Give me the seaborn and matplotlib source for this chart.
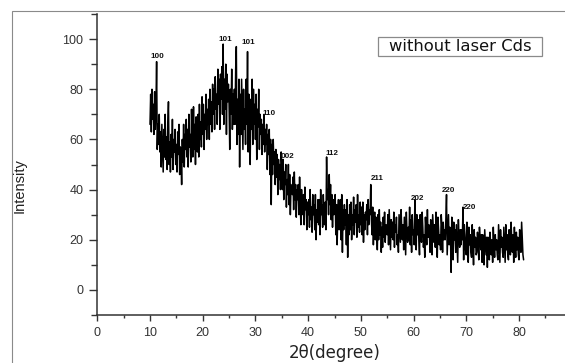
import numpy as np
import pandas as pd
import matplotlib
matplotlib.use("Agg")
import matplotlib.pyplot as plt
import seaborn as sns
from matplotlib.patches import Rectangle
from matplotlib.ticker import MultipleLocator

# Step scan: 10.000 to 80.875 degrees (2θ), eight readings per degree
scan_start = 10.0
scan_step = 0.125
intensity_by_degree = [
    [66, 78, 63, 80, 68, 74, 62, 79],  # 10
    [64, 72, 91, 56, 66, 58, 70, 55],  # 11
    [63, 49, 66, 57, 47, 64, 53, 70],  # 12
    [52, 61, 48, 66, 75, 50, 59, 47],  # 13
    [62, 53, 68, 48, 60, 55, 64, 50],  # 14
    [58, 47, 63, 54, 66, 46, 57, 52],  # 15
    [42, 60, 51, 66, 49, 62, 56, 68],  # 16
    [53, 64, 49, 70, 57, 62, 51, 72],  # 17
    [60, 53, 73, 56, 66, 50, 69, 58],  # 18
    [55, 70, 53, 74, 60, 67, 57, 77],  # 19
    [62, 74, 56, 70, 64, 78, 60, 72],  # 20
    [66, 76, 60, 80, 66, 75, 63, 82],  # 21
    [70, 80, 64, 85, 72, 78, 66, 88],  # 22
    [74, 84, 64, 86, 76, 89, 70, 98],  # 23
    [66, 84, 72, 90, 62, 86, 75, 82],  # 24
    [74, 56, 80, 70, 88, 64, 78, 66],  # 25
    [80, 66, 88, 97, 58, 76, 62, 84],  # 26
    [49, 78, 62, 84, 70, 56, 80, 64],  # 27
    [72, 58, 84, 66, 95, 55, 78, 60],  # 28
    [50, 76, 64, 84, 58, 80, 66, 74],  # 29
    [60, 78, 52, 72, 65, 80, 56, 70],  # 30
    [62, 68, 54, 66, 58, 70, 55, 64],  # 31
    [58, 66, 48, 62, 54, 64, 46, 60],  # 32
    [34, 58, 46, 60, 50, 55, 42, 56],  # 33
    [45, 54, 38, 52, 44, 50, 40, 55],  # 34
    [50, 40, 52, 36, 47, 42, 50, 33],  # 35
    [44, 38, 50, 34, 46, 30, 42, 40],  # 36
    [38, 45, 32, 47, 36, 42, 29, 40],  # 37
    [36, 42, 30, 45, 34, 26, 40, 32],  # 38
    [30, 38, 26, 41, 32, 36, 24, 35],  # 39
    [30, 36, 25, 40, 28, 33, 23, 38],  # 40
    [30, 34, 24, 38, 20, 32, 27, 36],  # 41
    [26, 36, 22, 40, 30, 34, 25, 38],  # 42
    [30, 26, 35, 24, 53, 36, 40, 30],  # 43
    [46, 34, 42, 28, 38, 25, 36, 30],  # 44
    [32, 38, 22, 34, 18, 30, 36, 24],  # 45
    [28, 36, 20, 38, 15, 32, 24, 34],  # 46
    [26, 32, 18, 36, 13, 30, 22, 34],  # 47
    [24, 35, 20, 30, 26, 37, 22, 32],  # 48
    [27, 34, 21, 38, 25, 30, 23, 35],  # 49
    [26, 33, 22, 35, 19, 30, 24, 31],  # 50
    [28, 34, 22, 36, 26, 32, 30, 42],  # 51
    [28, 22, 33, 18, 27, 31, 20, 29],  # 52
    [24, 16, 30, 20, 32, 22, 27, 15],  # 53
    [25, 17, 29, 21, 31, 19, 26, 23],  # 54
    [22, 30, 18, 32, 24, 16, 28, 21],  # 55
    [27, 20, 31, 17, 26, 23, 29, 18],  # 56
    [22, 15, 30, 24, 19, 32, 25, 20],  # 57
    [26, 16, 29, 21, 14, 31, 23, 19],  # 58
    [25, 20, 33, 18, 28, 15, 30, 22],  # 59
    [24, 18, 36, 27, 16, 30, 22, 28],  # 60
    [20, 14, 30, 23, 19, 31, 25, 17],  # 61
    [22, 13, 29, 24, 18, 32, 21, 26],  # 62
    [23, 15, 28, 20, 14, 30, 24, 19],  # 63
    [26, 17, 31, 21, 13, 29, 24, 18],  # 64
    [22, 16, 30, 25, 15, 27, 20, 24],  # 65
    [20, 28, 38, 14, 22, 30, 18, 25],  # 66
    [22, 7, 29, 16, 12, 27, 20, 24],   # 67
    [15, 26, 19, 11, 28, 21, 17, 24],  # 68
    [18, 24, 20, 33, 12, 26, 22, 16],  # 69
    [14, 27, 20, 11, 25, 18, 22, 15],  # 70
    [13, 26, 19, 10, 24, 17, 21, 14],  # 71
    [15, 23, 18, 12, 25, 20, 16, 22],  # 72
    [11, 22, 17, 10, 24, 19, 14, 21],  # 73
    [9, 21, 16, 12, 23, 18, 14, 20],   # 74
    [11, 25, 18, 13, 22, 16, 20, 14],  # 75
    [12, 26, 19, 11, 24, 17, 21, 15],  # 76
    [13, 25, 18, 11, 26, 16, 22, 14],  # 77
    [12, 24, 17, 14, 27, 19, 15, 22],  # 78
    [11, 25, 18, 13, 23, 16, 21, 14],  # 79
    [12, 24, 18, 15, 27, 20, 14, 12],  # 80
]

# Miller indices of the CdS reflections and where their tags sit
peak_hkl = ["100", "101", "101", "110", "002", "112", "211", "202", "220", "220"]
peak_2theta = [11.4, 24.3, 28.6, 32.6, 36.0, 44.6, 53.1, 60.7, 66.7, 70.7]
peak_tag_y = [93.0, 100.0, 98.5, 70.5, 53.0, 54.5, 44.5, 36.5, 39.5, 33.0]

x_ticks = [0, 10, 20, 30, 40, 50, 60, 70, 80, 90]
y_ticks = [0, 20, 40, 60, 80, 100]

intensity = [v for row in intensity_by_degree for v in row]
two_theta = scan_start + scan_step * np.arange(len(intensity))
df = pd.DataFrame({"two_theta": two_theta, "intensity": intensity})

sns.set_theme(style="ticks")
plt.rcParams["font.family"] = ["Liberation Sans", "DejaVu Sans"]

W, H = 565, 363
fig = plt.figure(figsize=(W / 100, H / 100), dpi=100)
fig.patch.set_facecolor("white")

# thin grey frame around the whole graphic
fig.patches.append(Rectangle((12 / W, -0.2), 1.2, 1.2 - 11 / H,
                             transform=fig.transFigure, fill=False,
                             edgecolor="#8a8a8a", linewidth=0.8))

ax = fig.add_axes([97.3 / W, 48 / H, 474.4 / W, 301 / H])
ax.set_facecolor("white")

sns.lineplot(data=df, x="two_theta", y="intensity", ax=ax, color="black",
             linewidth=1.1, estimator=None, sort=False)

ax.set_xlim(0, 90)
ax.set_ylim(-10, 110)
ax.set_xticks(x_ticks)
ax.set_yticks(y_ticks)
ax.xaxis.set_minor_locator(MultipleLocator(5))
ax.yaxis.set_minor_locator(MultipleLocator(10))
ax.set_xlabel("")
ax.set_ylabel("")

for side in ["top", "right"]:
    ax.spines[side].set_visible(False)
for side in ["left", "bottom"]:
    ax.spines[side].set_color("#333333")
    ax.spines[side].set_linewidth(1.1)

ax.tick_params(axis="both", which="major", direction="out", colors="#333333",
               labelcolor="#333333", labelsize=9, width=1.0)
ax.tick_params(axis="y", which="major", length=6, pad=4)
ax.tick_params(axis="y", which="minor", length=4, width=1.0, colors="#333333")
ax.tick_params(axis="x", which="major", length=4, pad=5)
ax.tick_params(axis="x", which="minor", length=2.5, width=1.0, colors="#333333")

for hkl, tx, ty in zip(peak_hkl, peak_2theta, peak_tag_y):
    ax.text(tx, ty, hkl, ha="center", va="center", fontsize=5.8,
            fontweight="bold", color="#111111")

# sample caption box
fig.patches.append(Rectangle((378 / W, 1 - 56 / H), 164 / W, 19 / H,
                             transform=fig.transFigure, facecolor="white",
                             edgecolor="#8a8a8a", linewidth=0.9))
fig.text(460 / W, 1 - 46.5 / H, "without laser Cds", ha="center", va="center",
         fontsize=11.8, color="#111111", family=["DejaVu Sans"])

fig.text(20 / W, 1 - 186 / H, "Intensity", rotation=90, ha="center",
         va="center", fontsize=10.5, color="#222222")
fig.text(335 / W, 1 - 358 / H, "2θ(degree)", ha="center", va="baseline",
         fontsize=12, color="#222222", family=["DejaVu Sans"])

fig.savefig("out.png", dpi=100, facecolor="white")
